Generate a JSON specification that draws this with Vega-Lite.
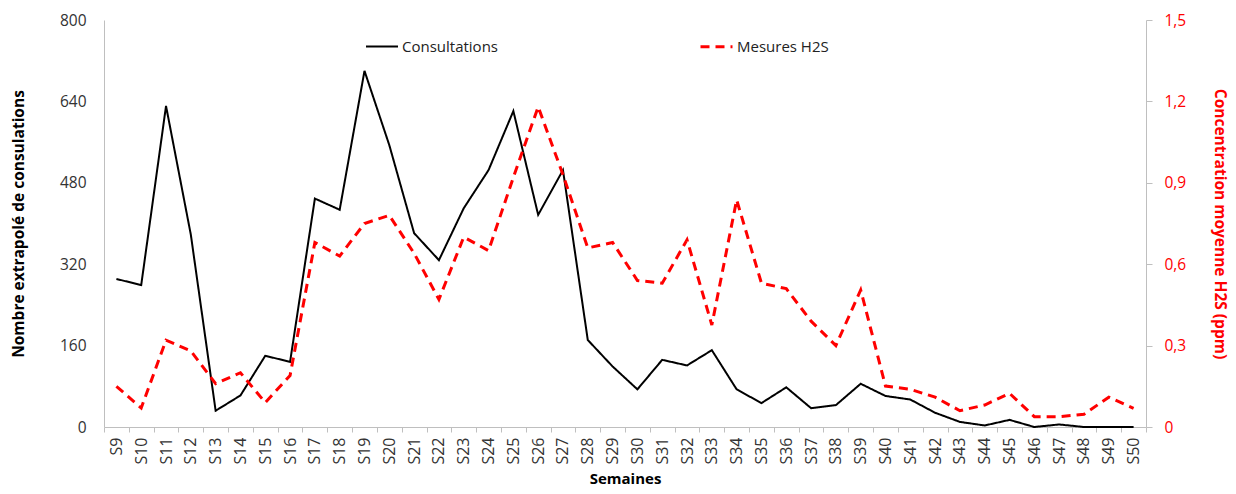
{
  "$schema": "https://vega.github.io/schema/vega-lite/v6.json",
  "autosize": {"type": "none"},
  "padding": {"left": 104, "top": 20, "right": 90, "bottom": 67},
  "width": 1042,
  "height": 407,
  "background": "white",
  "config": {
    "font": "Open Sans",
    "view": {"stroke": null},
    "axis": {"grid": false, "domainColor": "#bfbfbf", "tickColor": "#bfbfbf", "labelFont": "Open Sans", "titleFont": "Open Sans"}
  },
  "data": {
    "values": [
      {"semaine": "S9", "Consultations": 291, "Mesures H2S": 0.15},
      {"semaine": "S10", "Consultations": 279, "Mesures H2S": 0.07},
      {"semaine": "S11", "Consultations": 631, "Mesures H2S": 0.32},
      {"semaine": "S12", "Consultations": 378, "Mesures H2S": 0.28},
      {"semaine": "S13", "Consultations": 32, "Mesures H2S": 0.16},
      {"semaine": "S14", "Consultations": 62, "Mesures H2S": 0.2},
      {"semaine": "S15", "Consultations": 140, "Mesures H2S": 0.09},
      {"semaine": "S16", "Consultations": 128, "Mesures H2S": 0.19},
      {"semaine": "S17", "Consultations": 449, "Mesures H2S": 0.68},
      {"semaine": "S18", "Consultations": 427, "Mesures H2S": 0.63},
      {"semaine": "S19", "Consultations": 700, "Mesures H2S": 0.75},
      {"semaine": "S20", "Consultations": 554, "Mesures H2S": 0.78},
      {"semaine": "S21", "Consultations": 381, "Mesures H2S": 0.64},
      {"semaine": "S22", "Consultations": 328, "Mesures H2S": 0.47},
      {"semaine": "S23", "Consultations": 430, "Mesures H2S": 0.7},
      {"semaine": "S24", "Consultations": 505, "Mesures H2S": 0.65},
      {"semaine": "S25", "Consultations": 621, "Mesures H2S": 0.92},
      {"semaine": "S26", "Consultations": 417, "Mesures H2S": 1.18},
      {"semaine": "S27", "Consultations": 505, "Mesures H2S": 0.93},
      {"semaine": "S28", "Consultations": 171, "Mesures H2S": 0.66},
      {"semaine": "S29", "Consultations": 119, "Mesures H2S": 0.68},
      {"semaine": "S30", "Consultations": 74, "Mesures H2S": 0.54},
      {"semaine": "S31", "Consultations": 132, "Mesures H2S": 0.53},
      {"semaine": "S32", "Consultations": 121, "Mesures H2S": 0.69},
      {"semaine": "S33", "Consultations": 151, "Mesures H2S": 0.376},
      {"semaine": "S34", "Consultations": 74, "Mesures H2S": 0.837},
      {"semaine": "S35", "Consultations": 47, "Mesures H2S": 0.53},
      {"semaine": "S36", "Consultations": 78, "Mesures H2S": 0.51},
      {"semaine": "S37", "Consultations": 37, "Mesures H2S": 0.39},
      {"semaine": "S38", "Consultations": 43, "Mesures H2S": 0.3},
      {"semaine": "S39", "Consultations": 85, "Mesures H2S": 0.505},
      {"semaine": "S40", "Consultations": 61, "Mesures H2S": 0.151},
      {"semaine": "S41", "Consultations": 54, "Mesures H2S": 0.139},
      {"semaine": "S42", "Consultations": 28, "Mesures H2S": 0.11},
      {"semaine": "S43", "Consultations": 10, "Mesures H2S": 0.06},
      {"semaine": "S44", "Consultations": 3, "Mesures H2S": 0.081},
      {"semaine": "S45", "Consultations": 14, "Mesures H2S": 0.124},
      {"semaine": "S46", "Consultations": 0, "Mesures H2S": 0.038},
      {"semaine": "S47", "Consultations": 5, "Mesures H2S": 0.038},
      {"semaine": "S48", "Consultations": 0, "Mesures H2S": 0.047},
      {"semaine": "S49", "Consultations": 0, "Mesures H2S": 0.11},
      {"semaine": "S50", "Consultations": 0, "Mesures H2S": 0.069}
    ]
  },
  "transform": [
    {"fold": ["Consultations", "Mesures H2S"], "as": ["serie", "valeur"]}
  ],
  "encoding": {
    "x": {
      "field": "semaine",
      "type": "ordinal",
      "sort": null,
      "bandPosition": 0.5,
      "scale": {"type": "band", "paddingInner": 0, "paddingOuter": 0},
      "axis": {
        "title": "Semaines",
        "titleFontSize": 15,
        "titleFontWeight": "bold",
        "titleColor": "black",
        "labelAngle": -90,
        "labelAlign": "right",
        "labelBaseline": "middle",
        "labelFontSize": 16,
        "labelColor": "#333333",
        "labelPadding": 5,
        "tickBand": "extent",
        "tickSize": 5,
        "titlePadding": 7
      }
    },
    "color": {
      "field": "serie",
      "type": "nominal",
      "scale": {"domain": ["Consultations", "Mesures H2S"], "range": ["#000000", "#ff0000"]},
      "legend": {
        "title": null,
        "orient": "none",
        "legendX": 261,
        "legendY": 9,
        "direction": "horizontal",
        "symbolType": "stroke",
        "symbolSize": 1024,
        "labelFontSize": 15,
        "labelColor": "#222222",
        "labelOffset": 3,
        "columnPadding": 196,
        "padding": 0
      }
    },
    "strokeDash": {
      "field": "serie",
      "type": "nominal",
      "scale": {"domain": ["Consultations", "Mesures H2S"], "range": [[1, 0], [9, 6]]}
    },
    "strokeWidth": {
      "field": "serie",
      "type": "nominal",
      "scale": {"domain": ["Consultations", "Mesures H2S"], "range": [2, 3]}
    }
  },
  "layer": [
    {
      "transform": [{"filter": "datum.serie == 'Consultations'"}],
      "mark": {"type": "line"},
      "encoding": {
        "y": {
          "field": "valeur",
          "type": "quantitative",
          "scale": {"domain": [0, 800], "nice": false},
          "axis": {
            "title": "Nombre  extrapolé de consulations",
            "titleFontSize": 15.5,
            "titleFontWeight": "bold",
            "titleColor": "black",
            "values": [0, 160, 320, 480, 640, 800],
            "ticks": false,
            "labelPadding": 18,
            "labelFontSize": 15.5,
            "labelColor": "#333333",
            "titlePadding": 33
          }
        }
      }
    },
    {
      "transform": [{"filter": "datum.serie == 'Mesures H2S'"}],
      "mark": {"type": "line"},
      "encoding": {
        "y": {
          "field": "valeur",
          "type": "quantitative",
          "scale": {"domain": [0, 1.5], "nice": false},
          "axis": {
            "orient": "right",
            "title": "Concentration moyenne H2S (ppm)",
            "titleFontSize": 15.5,
            "titleFontWeight": "bold",
            "titleColor": "#ff0000",
            "values": [0, 0.3, 0.6, 0.9, 1.2, 1.5],
            "labelExpr": "datum.value == 0 ? '0' : replace(format(datum.value, '.1f'), '.', ',')",
            "tickSize": 6,
            "labelPadding": 12,
            "labelFontSize": 15.5,
            "labelColor": "#ff0000",
            "titlePadding": 26
          }
        }
      }
    }
  ],
  "resolve": {"scale": {"y": "independent"}}
}
